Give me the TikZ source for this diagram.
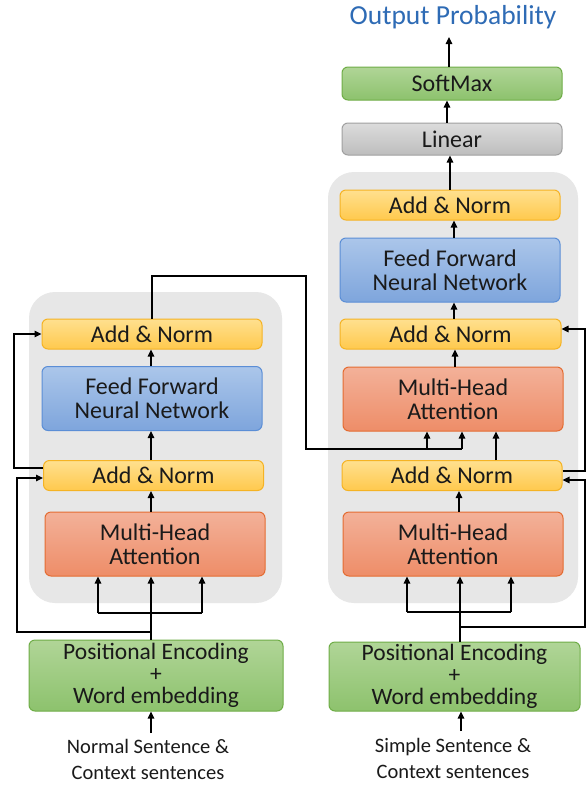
\documentclass[tikz,border=0pt]{standalone}
\usepackage{fontspec}
\setmainfont{Carlito}
\usetikzlibrary{arrows.meta}
\definecolor{bgray}{HTML}{E7E7E7}
\definecolor{anTop}{HTML}{FFE08F}
\definecolor{anBot}{HTML}{FFC94D}
\definecolor{anBd}{HTML}{F5B324}
\definecolor{ffTop}{HTML}{ABC6EA}
\definecolor{ffBot}{HTML}{7EA5DC}
\definecolor{ffBd}{HTML}{5B8ED6}
\definecolor{mhTop}{HTML}{F3B199}
\definecolor{mhBot}{HTML}{EE8D68}
\definecolor{mhBd}{HTML}{E46C32}
\definecolor{gnTop}{HTML}{B0D597}
\definecolor{gnBot}{HTML}{8DC26D}
\definecolor{gnBd}{HTML}{6FAD47}
\definecolor{lnTop}{HTML}{DCDCDC}
\definecolor{lnBot}{HTML}{BDBDBD}
\definecolor{lnBd}{HTML}{A0A0A0}
\definecolor{outBlue}{HTML}{2E6BB5}
\definecolor{txt}{HTML}{1A1A1A}
\tikzset{
  box/.style={rounded corners=6pt, line width=1pt, inner sep=0pt, align=center,
    text=txt, font=\fontsize{24}{24}\selectfont, minimum width=220pt},
  addnorm/.style={box, top color=anTop, bottom color=anBot, draw=anBd, minimum height=30pt},
  ffnn/.style={box, top color=ffTop, bottom color=ffBot, draw=ffBd, minimum height=64pt},
  mha/.style={box, top color=mhTop, bottom color=mhBot, draw=mhBd, minimum height=64pt},
  greenbox/.style={box, top color=gnTop, bottom color=gnBot, draw=gnBd},
  graybox/.style={box, top color=lnTop, bottom color=lnBot, draw=lnBd, minimum height=32pt},
  pe/.style={greenbox, font=\fontsize{23.5}{22}\selectfont},
  intext/.style={align=center, text=txt, font=\fontsize{20.5}{26}\selectfont, inner sep=0pt},
  arr/.style={line width=1.2pt, -{Triangle[length=7pt,width=6.5pt]}},
  ln/.style={line width=1.2pt},
  panel/.style={fill=bgray, rounded corners=26pt}
}
\begin{document}
\begin{tikzpicture}[x=1pt,y=-1pt]
\useasboundingbox[fill=white] (0,0) rectangle (587,785);
% panels
\fill[panel] (29,292) rectangle (282,603);
\fill[panel] (328,172) rectangle (578,603);

% encoder
\node[addnorm] (eAN2) at (152,334) {Add \& Norm};
\node[ffnn] (eFF) at (152,398.5) {Feed Forward\\Neural Network};
\node[addnorm] (eAN1) at (153.5,475.5) {Add \& Norm};
\node[mha] (eMHA) at (155,544) {Multi-Head\\Attention};
\node[pe, minimum width=254pt, minimum height=71pt] (ePE) at (156,675.5) {Positional Encoding\\+\\Word embedding};
\node[intext] (eInT) at (148,759.5) {Normal Sentence \&\\Context sentences};

% decoder
\node[addnorm] (dAN3) at (450,205) {Add \& Norm};
\node[ffnn] (dFF) at (450,270) {Feed Forward\\Neural Network};
\node[addnorm, minimum width=221pt] (dAN2) at (450.5,334) {Add \& Norm};
\node[mha] (dMHA2) at (453,399) {Multi-Head\\Attention};
\node[addnorm] (dAN1) at (452,475.5) {Add \& Norm};
\node[mha] (dMHA1) at (453,544) {Multi-Head\\Attention};
\node[pe, minimum width=251pt, minimum height=69pt] (dPE) at (454.5,676.5) {Positional Encoding\\+\\Word embedding};
\node[intext] (dInT) at (453,758.5) {Simple Sentence \&\\Context sentences};
\node[graybox] (lin) at (452,139) {Linear};
\node[greenbox, minimum height=33pt] (soft) at (452,83.5) {SoftMax};
\node[text=outBlue, font=\fontsize{27.5}{28}\selectfont, inner sep=0pt] (out) at (453,17) {Output Probability};

% ---- encoder connectors
\coordinate (eIn) at (151,733);
\draw[arr] (eIn) -- (eIn |- ePE.south);
\coordinate (eJ) at (151,613);
\coordinate (eJl) at (98,613);
\coordinate (eJr) at (202,613);
\draw[arr] (ePE.north -| eJ) -- (eMHA.south -| eJ);
\draw[ln] (eJl) -- (eJr);
\draw[arr] (eJl) -- (eJl |- eMHA.south);
\draw[arr] (eJr) -- (eJr |- eMHA.south);
\coordinate (eR1) at (151,632);
\coordinate (eL1) at (17,632);
\coordinate (eL1t) at (17,478);
\draw[arr] (eR1) -- (eL1) -- (eL1t) -- (eL1t -| eAN1.west);
\coordinate (eL2b) at (14,468);
\coordinate (eL2t) at (14,334);
\draw[arr] (eL2b -| eAN1.west) -- (eL2b) -- (eL2t) -- (eL2t -| eAN2.west);
\coordinate (ex) at (151,0);
\draw[arr] (eMHA.north -| ex) -- (eAN1.south -| ex);
\draw[arr] (eAN1.north -| ex) -- (eFF.south -| ex);
\draw[arr] (eFF.north -| ex) -- (eAN2.south -| ex);
% encoder output to decoder
\coordinate (o1) at (152,276);
\coordinate (o2) at (306,276);
\coordinate (o3) at (306,449);
\coordinate (o4) at (462,449);
\coordinate (o5) at (427,449);
\draw[ln] (eAN2.north -| o1) -- (o1) -- (o2) -- (o3) -- (o4);
\draw[arr] (o4) -- (o4 |- dMHA2.south);
\draw[arr] (o5) -- (o5 |- dMHA2.south);

% ---- decoder connectors
\coordinate (dIn) at (461,731);
\draw[arr] (dIn) -- (dIn |- dPE.south);
\coordinate (dJ) at (460,612);
\coordinate (dJl) at (407,612);
\coordinate (dJr) at (511,612);
\draw[arr] (dPE.north -| dJ) -- (dMHA1.south -| dJ);
\draw[ln] (dJl) -- (dJr);
\draw[arr] (dJl) -- (dJl |- dMHA1.south);
\draw[arr] (dJr) -- (dJr |- dMHA1.south);
\coordinate (dR) at (460,627);
\coordinate (dRr) at (585,627);
\coordinate (dRt) at (585,480);
\draw[arr] (dR) -- (dRr) -- (dRt) -- (dRt -| dAN1.east);
\coordinate (dS) at (585,471);
\coordinate (dSt) at (585,329);
\draw[arr] (dS -| dAN1.east) -- (dS) -- (dSt) -- (dSt -| dAN2.east);
\coordinate (dx1) at (459,0);
\draw[arr] (dMHA1.north -| dx1) -- (dAN1.south -| dx1);
\coordinate (dx2) at (496,0);
\draw[arr] (dAN1.north -| dx2) -- (dMHA2.south -| dx2);
\coordinate (dx3) at (455,0);
\draw[arr] (dMHA2.north -| dx3) -- (dAN2.south -| dx3);
\coordinate (dx4) at (454,0);
\draw[arr] (dAN2.north -| dx4) -- (dFF.south -| dx4);
\draw[arr] (dFF.north -| dx4) -- (dAN3.south -| dx4);
\coordinate (dx5) at (450,0);
\draw[arr] (dAN3.north -| dx5) -- (lin.south -| dx5);
\coordinate (dx6) at (447,0);
\draw[arr] (lin.north -| dx6) -- (soft.south -| dx6);
\coordinate (ox) at (449,37);
\draw[arr] (soft.north -| ox) -- (ox);
\end{tikzpicture}
\end{document}
